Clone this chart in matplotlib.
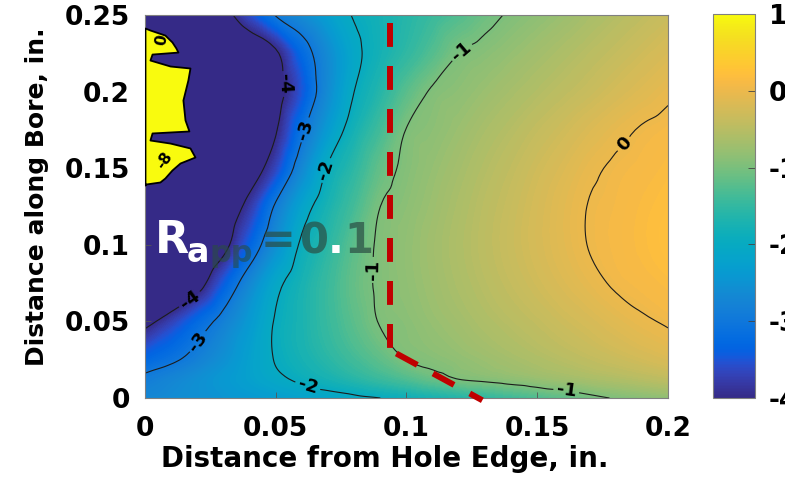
import numpy as np
import matplotlib
matplotlib.use("Agg")
import matplotlib.pyplot as plt
import matplotlib.tri as mtri
from matplotlib.colors import LinearSegmentedColormap, Normalize
from matplotlib.cm import ScalarMappable

plt.rcParams["axes.unicode_minus"] = False
plt.rcParams["font.family"] = ["DejaVu Sans"]
plt.rcParams["font.weight"] = "bold"

# ---- data -------------------------------------------------------------
# distance from hole edge (in.) and distance along bore (in.)
x_grid = [0.00, 0.01, 0.02, 0.03, 0.04, 0.05, 0.06, 0.07, 0.08, 0.09, 0.10,
          0.11, 0.12, 0.13, 0.14, 0.15, 0.16, 0.17, 0.18, 0.19, 0.20]
y_grid = [0.0, 0.0125, 0.025, 0.05, 0.075, 0.1, 0.125, 0.15, 0.175, 0.2, 0.225, 0.25]

# field value at each (y, x) node, one row per y_grid entry
field = [
    [-2.70, -2.62, -2.54, -2.47, -2.39, -2.31, -2.23, -2.16, -2.08, -2.00, -1.89,
     -1.77, -1.66, -1.54, -1.43, -1.31, -1.20, -1.08, -0.98, -0.91, -0.85],
    [-2.90, -2.74, -2.57, -2.41, -2.25, -2.08, -1.92, -1.77, -1.61, -1.45, -1.30,
     -1.14, -0.99, -0.93, -0.86, -0.79, -0.72, -0.65, -0.59, -0.52, -0.45],
    [-3.30, -3.08, -2.82, -2.54, -2.25, -1.98, -1.78, -1.59, -1.39, -1.20, -1.00,
     -0.92, -0.84, -0.76, -0.68, -0.60, -0.52, -0.44, -0.36, -0.28, -0.20],
    [-4.20, -3.73, -3.27, -2.83, -2.39, -1.97, -1.72, -1.46, -1.21, -0.98, -0.89,
     -0.79, -0.70, -0.60, -0.51, -0.42, -0.32, -0.23, -0.13, -0.04, 0.03],
    [-5.50, -4.88, -4.25, -3.45, -2.71, -2.12, -1.76, -1.45, -1.15, -0.95, -0.84,
     -0.73, -0.62, -0.51, -0.40, -0.29, -0.18, -0.07, 0.03, 0.09, 0.15],
    [-6.00, -5.39, -4.79, -4.18, -3.36, -2.57, -1.93, -1.57, -1.21, -0.95, -0.83,
     -0.71, -0.59, -0.47, -0.35, -0.23, -0.11, 0.01, 0.08, 0.15, 0.22],
    [-6.00, -5.47, -4.95, -4.42, -3.82, -2.93, -2.21, -1.74, -1.37, -1.00, -0.87,
     -0.75, -0.62, -0.49, -0.37, -0.24, -0.11, 0.01, 0.07, 0.14, 0.20],
    [-6.00, -5.57, -5.15, -4.72, -4.30, -3.67, -2.69, -1.96, -1.56, -1.16, -0.93,
     -0.80, -0.68, -0.55, -0.43, -0.30, -0.18, -0.05, 0.035, 0.09, 0.15],
    [-6.00, -5.61, -5.22, -4.82, -4.43, -4.04, -3.10, -2.36, -1.79, -1.38, -0.99,
     -0.87, -0.76, -0.64, -0.53, -0.41, -0.30, -0.18, -0.07, 0.02, 0.08],
    [-6.00, -5.64, -5.29, -4.93, -4.57, -4.21, -3.50, -2.63, -2.00, -1.62, -1.23,
     -0.96, -0.86, -0.76, -0.66, -0.56, -0.46, -0.36, -0.25, -0.15, -0.05],
    [-6.00, -5.62, -5.23, -4.85, -4.46, -4.08, -3.27, -2.63, -2.11, -1.79, -1.53,
     -1.26, -1.00, -0.90, -0.80, -0.70, -0.60, -0.50, -0.40, -0.30, -0.20],
    [-6.00, -5.41, -4.82, -4.24, -3.60, -2.97, -2.62, -2.28, -1.97, -1.79, -1.62,
     -1.45, -1.28, -1.10, -0.96, -0.86, -0.76, -0.65, -0.55, -0.45, -0.35],
]

contour_levels = [-4, -3, -2, -1, 0]
colorbar_ticks = [-4, -3, -2, -1, 0, 1]
x_ticks = [0, 0.05, 0.1, 0.15, 0.2]
x_tick_labels = ["0", "0.05", "0.1", "0.15", "0.2"]
y_ticks = [0, 0.05, 0.1, 0.15, 0.2, 0.25]
y_tick_labels = ["0", "0.05", "0.1", "0.15", "0.2", "0.25"]

# out-of-range (above scale) pocket along the hole edge: extent from x = 0
spike_y = [0.2415, 0.2402, 0.2369, 0.2324, 0.2285, 0.2258, 0.2245, 0.2206, 0.2167,
           0.2154, 0.2076, 0.1945, 0.1815, 0.1743, 0.1730, 0.1684, 0.1664, 0.1632,
           0.1573, 0.1534, 0.1488, 0.1436, 0.1410, 0.1397, 0.1390]
spike_w = [0.0, 0.0019, 0.0076, 0.0103, 0.0118, 0.0126, 0.0027, 0.0019, 0.0096,
           0.0172, 0.0164, 0.0145, 0.0153, 0.0168, 0.0027, 0.0019, 0.0096, 0.0172,
           0.0191, 0.0134, 0.0103, 0.0076, 0.0057, 0.0004, 0.0]

# boundary path (dashed red): straight run along the bore, then the kink
boundary_x = [0.0937, 0.0937, 0.1290]
boundary_y = [0.2448, 0.0313, -0.0015]

# ---- parula colour map --------------------------------------------------
parula_data = [
    [0.2081, 0.1663, 0.5292], [0.2116, 0.1898, 0.5777], [0.2123, 0.2138, 0.6270],
    [0.2081, 0.2386, 0.6771], [0.1959, 0.2645, 0.7279], [0.1707, 0.2919, 0.7792],
    [0.1253, 0.3242, 0.8303], [0.0591, 0.3598, 0.8683], [0.0117, 0.3875, 0.8820],
    [0.0060, 0.4086, 0.8828], [0.0165, 0.4266, 0.8786], [0.0329, 0.4430, 0.8720],
    [0.0498, 0.4586, 0.8641], [0.0629, 0.4737, 0.8554], [0.0723, 0.4887, 0.8467],
    [0.0779, 0.5040, 0.8384], [0.0793, 0.5200, 0.8312], [0.0749, 0.5375, 0.8263],
    [0.0641, 0.5570, 0.8240], [0.0488, 0.5772, 0.8228], [0.0343, 0.5966, 0.8199],
    [0.0265, 0.6137, 0.8135], [0.0239, 0.6287, 0.8038], [0.0231, 0.6418, 0.7913],
    [0.0228, 0.6535, 0.7768], [0.0267, 0.6642, 0.7607], [0.0384, 0.6743, 0.7436],
    [0.0590, 0.6838, 0.7254], [0.0843, 0.6928, 0.7062], [0.1133, 0.7015, 0.6859],
    [0.1453, 0.7098, 0.6646], [0.1801, 0.7177, 0.6424], [0.2178, 0.7250, 0.6193],
    [0.2586, 0.7317, 0.5954], [0.3022, 0.7376, 0.5712], [0.3482, 0.7424, 0.5473],
    [0.3953, 0.7459, 0.5244], [0.4420, 0.7481, 0.5033], [0.4871, 0.7491, 0.4840],
    [0.5300, 0.7491, 0.4661], [0.5709, 0.7485, 0.4494], [0.6099, 0.7473, 0.4337],
    [0.6473, 0.7456, 0.4188], [0.6834, 0.7435, 0.4044], [0.7184, 0.7411, 0.3905],
    [0.7525, 0.7384, 0.3768], [0.7858, 0.7356, 0.3633], [0.8185, 0.7327, 0.3498],
    [0.8507, 0.7299, 0.3360], [0.8824, 0.7274, 0.3217], [0.9139, 0.7258, 0.3063],
    [0.9450, 0.7261, 0.2886], [0.9739, 0.7314, 0.2666], [0.9938, 0.7455, 0.2403],
    [0.9990, 0.7653, 0.2164], [0.9955, 0.7861, 0.1967], [0.9880, 0.8066, 0.1794],
    [0.9789, 0.8271, 0.1633], [0.9697, 0.8481, 0.1475], [0.9626, 0.8705, 0.1309],
    [0.9589, 0.8949, 0.1132], [0.9598, 0.9218, 0.0948], [0.9661, 0.9514, 0.0755],
    [0.9763, 0.9831, 0.0538],
]
parula = LinearSegmentedColormap.from_list("parula", parula_data, N=256)
vmin, vmax = -4, 1

# ---- figure -------------------------------------------------------------
W, H = 785, 483
fig = plt.figure(figsize=(W / 100, H / 100), dpi=100)
ax = fig.add_axes([145 / W, 1 - 398 / H, 523 / W, 383 / H])

X, Y = np.meshgrid(np.array(x_grid), np.array(y_grid))
Z = np.array(field)

# smooth the nodal field on a refined triangulation for rendering
tri = mtri.Triangulation(X.ravel(), Y.ravel())
interp = mtri.CubicTriInterpolator(tri, Z.ravel(), kind="geom")
tri_f, z_f = mtri.UniformTriRefiner(tri).refine_field(Z.ravel(), triinterpolator=interp,
                                                      subdiv=3)

ax.tricontourf(tri_f, z_f, levels=np.linspace(vmin, vmax, 151), cmap=parula,
               extend="both", antialiased=False)
cs = ax.tricontour(tri_f, z_f, levels=contour_levels, colors="#1c1c1c",
                   linewidths=0.8, linestyles="solid")

label_spots = [(0.0566, 0.2056), (0.0172, 0.064),
               (0.0612, 0.175), (0.021, 0.0359),
               (0.0688, 0.1488), (0.062, 0.0065),
               (0.1205, 0.227), (0.086, 0.0836), (0.161, 0.003),
               (0.1828, 0.1664)]
labels = ax.clabel(cs, manual=label_spots, inline=True, fontsize=13,
                   fmt="%g", inline_spacing=3)
for t in labels:
    t.set_fontweight("bold")
    t.set_color("black")

# over-range pocket at the hole edge
ax.fill_betweenx(spike_y, 0, spike_w, facecolor=parula_data[-1],
                 edgecolor="black", linewidth=1.3, zorder=3)
ax.text(0.0065, 0.2337, "0", fontsize=11, fontweight="bold", rotation=80,
        ha="center", va="center", zorder=4)
ax.text(0.0072, 0.1553, "-8", fontsize=11, fontweight="bold", rotation=55,
        ha="center", va="center", zorder=4)

# dashed red boundary, drawn as two strokes so each starts its own pattern
lw_red = 4.3
ax.plot(boundary_x[:2], boundary_y[:2], color="#c00000", linewidth=lw_red,
        linestyle=(0, (4.0, 3.2)), dash_capstyle="butt",
        clip_on=False, zorder=5)
ax.plot(boundary_x[1:], boundary_y[1:], color="#c00000", linewidth=lw_red,
        linestyle=(5.8, (4.0, 3.0)), dash_capstyle="butt",
        clip_on=False, zorder=5)

ax.set_xlim(0, 0.2)
ax.set_ylim(0, 0.25)
ax.set_xticks(x_ticks)
ax.set_xticklabels(x_tick_labels)
ax.set_yticks(y_ticks)
ax.set_yticklabels(y_tick_labels)
ax.tick_params(axis="both", direction="in", length=4, width=0.6,
               color="#555555", labelsize=19)
ax.tick_params(axis="x", pad=13)
ax.tick_params(axis="y", pad=11)
for sp in ax.spines.values():
    sp.set_color("#808080")
    sp.set_linewidth(0.8)

ax.set_xlabel("Distance from Hole Edge, in.", fontsize=20, fontweight="bold")
ax.xaxis.set_label_coords((385 - 145) / 523, (398 - 445) / 383)
ax.set_ylabel("Distance along Bore, in.", fontsize=18, fontweight="bold")
ax.yaxis.set_label_coords((49 - 145) / 523, (398 - 197) / 383)

# ratio annotation
def px(xp, yp):
    return (xp - 145) / 523 * 0.2, (398 - yp) / 383 * 0.25

dark = "#2a4d43"
pieces = [
    ("R", 155, 253, 32, "white", 1.0),
    ("a", 187, 262, 24, "white", 1.0),
    ("pp", 209, 262, 22, dark, 0.6),
    ("=", 261, 253, 30, dark, 0.7),
    ("0", 300, 253, 30, dark, 0.7),
    (".", 328, 253, 30, "white", 1.0),
    ("1", 344, 253, 30, dark, 0.7),
]
for s, xp_, yp_, fs, col, al in pieces:
    xd, yd = px(xp_, yp_)
    ax.text(xd, yd, s, fontsize=fs, fontweight="bold", color=col, alpha=al,
            ha="left", va="baseline", zorder=6)

# colour bar
cax = fig.add_axes([713 / W, 1 - 398 / H, 42 / W, 384 / H])
sm = ScalarMappable(norm=Normalize(vmin, vmax), cmap=parula)
cb = fig.colorbar(sm, cax=cax, ticks=colorbar_ticks)
cb.ax.set_yticklabels([str(v) for v in colorbar_ticks])
cb.ax.tick_params(direction="in", length=5, width=0.6, color="#444444",
                  labelsize=19, pad=10)
cb.outline.set_edgecolor("#808080")
cb.outline.set_linewidth(0.8)

fig.savefig("out.png", dpi=100)
